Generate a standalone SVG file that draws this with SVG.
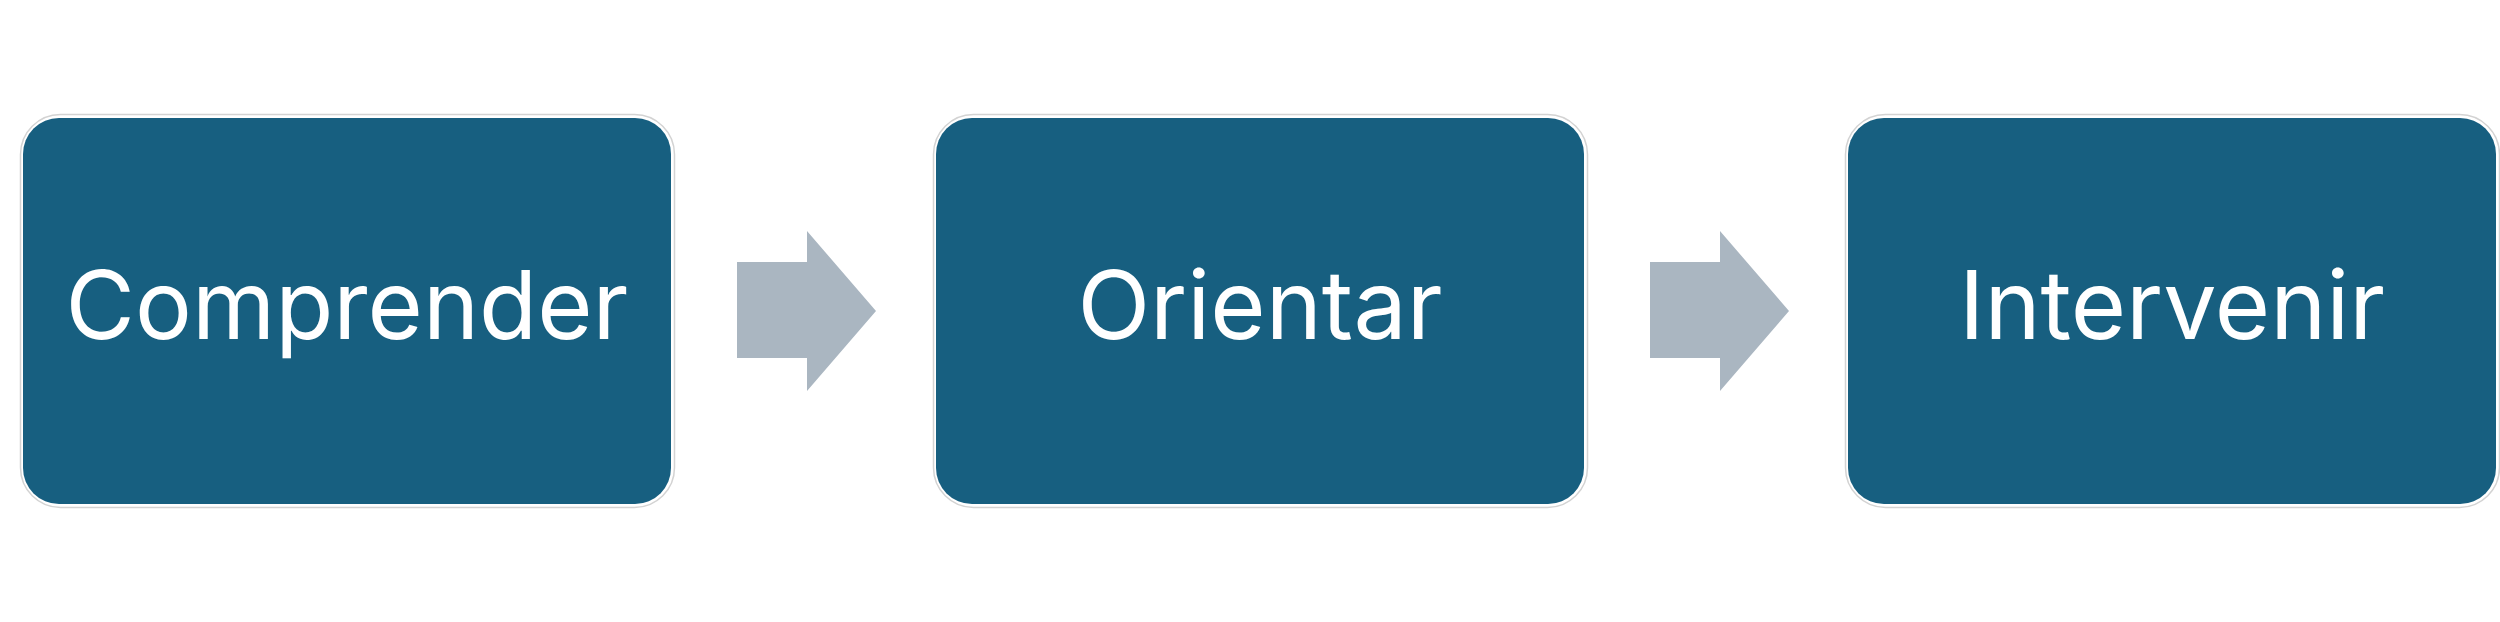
<svg xmlns="http://www.w3.org/2000/svg" width="2500" height="622" viewBox="0 0 2500 622">
<style>
.frame{fill:#ffffff;stroke:#d3d3d3;stroke-width:1.5}
.box{fill:#175F80}
.lbl{font-family:Inter,"Liberation Sans",Arial,sans-serif;font-size:95px;fill:#ffffff;text-anchor:middle}
.arr{fill:#AAB6C1}
</style>
<rect width="2500" height="622" fill="#ffffff"/>
<g id="node-comprender">
<rect class="frame" x="20.5" y="114.5" width="654" height="393" rx="40"/>
<rect class="box" x="23" y="118" width="648" height="386" rx="36"/>
<text class="lbl" x="347" y="339">Comprender</text>
</g>
<g id="node-orientar">
<rect class="frame" x="933.5" y="114.5" width="654" height="393" rx="40"/>
<rect class="box" x="936" y="118" width="648" height="386" rx="36"/>
<text class="lbl" x="1260" y="339">Orientar</text>
</g>
<g id="node-intervenir">
<rect class="frame" x="1845.5" y="114.5" width="654" height="393" rx="40"/>
<rect class="box" x="1848" y="118" width="648" height="386" rx="36"/>
<text class="lbl" x="2172" y="339">Intervenir</text>
</g>
<g id="connectors">
<polygon class="arr" points="737,262 807,262 807,231 876,311 807,391 807,358 737,358"/>
<polygon class="arr" points="1650,262 1720,262 1720,231 1789,311 1720,391 1720,358 1650,358"/>
</g>
</svg>
